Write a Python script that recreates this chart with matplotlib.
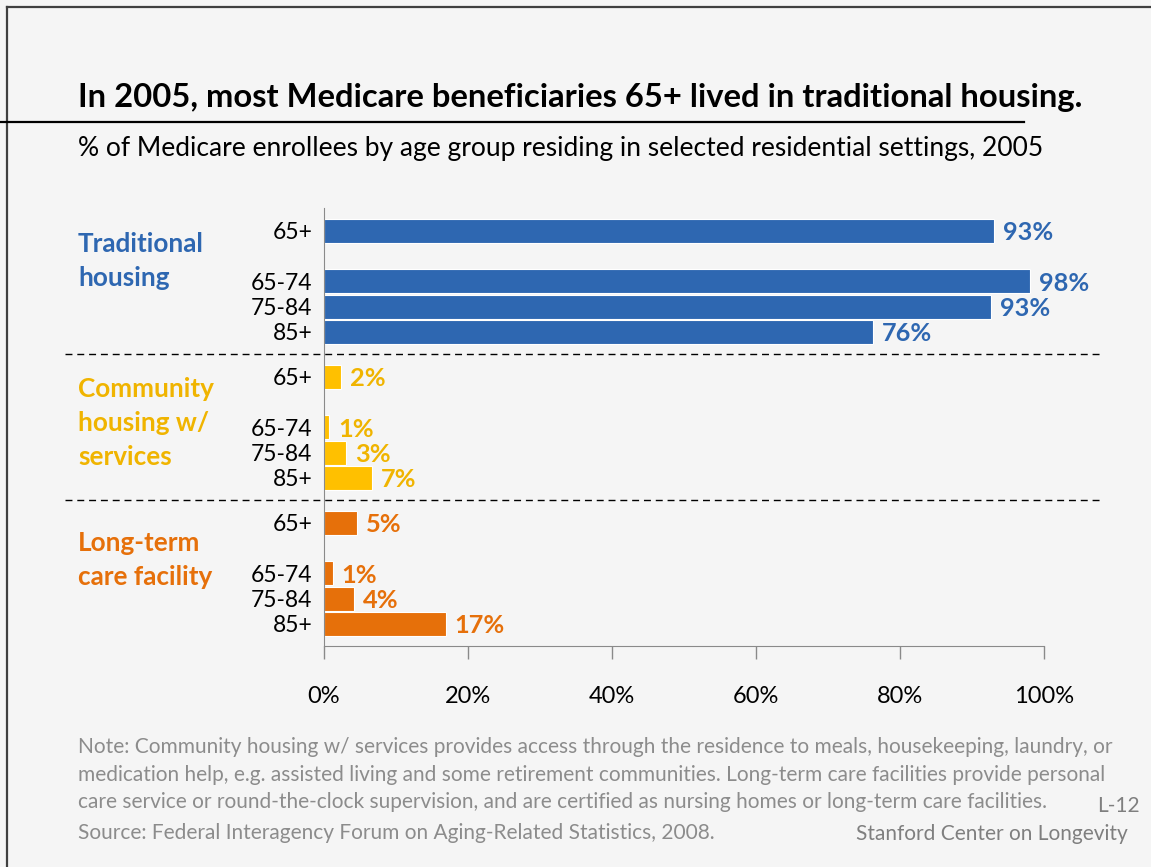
import numpy as np
import matplotlib
matplotlib.use('Agg')
import matplotlib.pyplot as plt
from matplotlib.lines import Line2D

# data
ages = ['65+', '65-74', '75-84', '85+']
groups = [['Traditional', 'housing'],
          ['Community', 'housing w/', 'services'],
          ['Long-term', 'care facility']]
traditional = [93.1, 98.1, 92.7, 76.3]
community = [2.3, 0.7, 3.1, 6.7]
longterm = [4.6, 1.2, 4.2, 16.9]
xticks = [0, 20, 40, 60, 80, 100]

title = 'In 2005, most Medicare beneficiaries 65+ lived in traditional housing.'
subtitle = '% of Medicare enrollees by age group residing in selected residential settings, 2005'
notes = ['Note: Community housing w/ services provides access through the residence to meals, housekeeping, laundry, or',
         'medication help, e.g. assisted living and some retirement communities. Long-term care facilities provide personal',
         'care service or round-the-clock supervision, and are certified as nursing homes or long-term care facilities.']
source = 'Source: Federal Interagency Forum on Aging-Related Statistics, 2008.'

blue = '#2E67B1'
yellow = '#FFC000'
yellow_txt = '#F0B400'
orange = '#E6700A'
bg = '#F5F5F5'
gray_txt = '#8C8C8C'

plt.rcParams['font.family'] = ['Lato', 'DejaVu Sans']

W, H = 1151, 867
fig = plt.figure(figsize=(W / 100, H / 100), dpi=100, facecolor=bg)


def fx(x):
    return x / W


def fy(y):
    return 1 - y / H


# axes box in pixels
ax_l, ax_r, ax_t, ax_b = 324, 1044, 208, 646
ax = fig.add_axes([fx(ax_l), fy(ax_b), (ax_r - ax_l) / W, (ax_b - ax_t) / H])
ax.set_facecolor('none')

slot = 25.35
first = 230.5
within = np.array([0, 2, 3, 4])
stride = 5.76

series = [traditional, community, longterm]
colors = [blue, yellow, orange]
txtcolors = [blue, yellow_txt, orange]

for g, (vals, c, tc) in enumerate(zip(series, colors, txtcolors)):
    ys = g * stride + within
    ax.barh(ys, vals, height=24 / slot, color=c, edgecolor='white', linewidth=0.8)
    for y, v in zip(ys, vals):
        ax.text(v + 1.25, y, f'{v:.0f}%', color=tc, fontsize=18.3, fontweight='bold',
                va='center_baseline', ha='left')
    for y, a in zip(ys, ages):
        ax.text(-1.6, y, a, color='black', fontsize=16.5, va='center_baseline', ha='right')

ax.set_xlim(0, 100)
ax.set_ylim((ax_b - first) / slot, (ax_t - first) / slot)
ax.set_yticks([])
ax.set_xticks(xticks)
ax.set_xticklabels([f'{t}%' for t in xticks], fontsize=17)
ax.tick_params(axis='x', length=9, width=1, color='#8A8A8A', pad=20)
for s in ['top', 'right']:
    ax.spines[s].set_visible(False)
ax.spines['left'].set_color('#8A8A8A')
ax.spines['bottom'].set_color('#8A8A8A')

# dashed group separators
for yy in [(4 + stride) / 2, (stride + 4 + 2 * stride) / 2]:
    ax.axhline(yy, xmin=(65 - ax_l) / (ax_r - ax_l), xmax=(1100 - ax_l) / (ax_r - ax_l),
               color='black', lw=1, ls=(0, (5, 3.5)), clip_on=False)

# group labels
group_base = [[252, 286], [397, 431, 465], [551, 585]]
for lines, bases, tc in zip(groups, group_base, txtcolors):
    for s, b in zip(lines, bases):
        fig.text(fx(78), fy(b), s, color=tc, fontsize=18.8, fontweight='bold', va='baseline')

# frame lines
fig.add_artist(Line2D([fx(7), 1], [fy(7), fy(7)], color='#404040', lw=1.6))
fig.add_artist(Line2D([fx(7), fx(7)], [fy(7), 0], color='#404040', lw=1.6))
fig.add_artist(Line2D([0, fx(1024)], [fy(122), fy(122)], color='black', lw=1.6))

renderer = fig.canvas.get_renderer()


def fit(t, width):
    bb = t.get_window_extent(renderer)
    t.set_fontsize(t.get_fontsize() * width / bb.width)


t1 = fig.text(fx(78), fy(107), title, fontsize=20, fontweight='bold', va='baseline')
fit(t1, 1007)
t2 = fig.text(fx(78), fy(156), subtitle, fontsize=16, va='baseline')
fit(t2, 969)

note_base = [753, 781, 808]
nt = []
for s, b in zip(notes, note_base):
    nt.append(fig.text(fx(78), fy(b), s, fontsize=13, color=gray_txt, va='baseline'))
fit(nt[1], 1028)
for t in nt:
    t.set_fontsize(nt[1].get_fontsize())
fig.text(fx(78), fy(839), source, fontsize=nt[1].get_fontsize(), color=gray_txt, va='baseline')
fig.text(fx(1140), fy(812), 'L-12', fontsize=nt[1].get_fontsize(), color='#7F7F7F', va='baseline', ha='right')
fig.text(fx(1128), fy(840), 'Stanford Center on Longevity', fontsize=nt[1].get_fontsize(),
         color='#7F7F7F', va='baseline', ha='right')

fig.savefig('out.png', dpi=100, facecolor=bg)
